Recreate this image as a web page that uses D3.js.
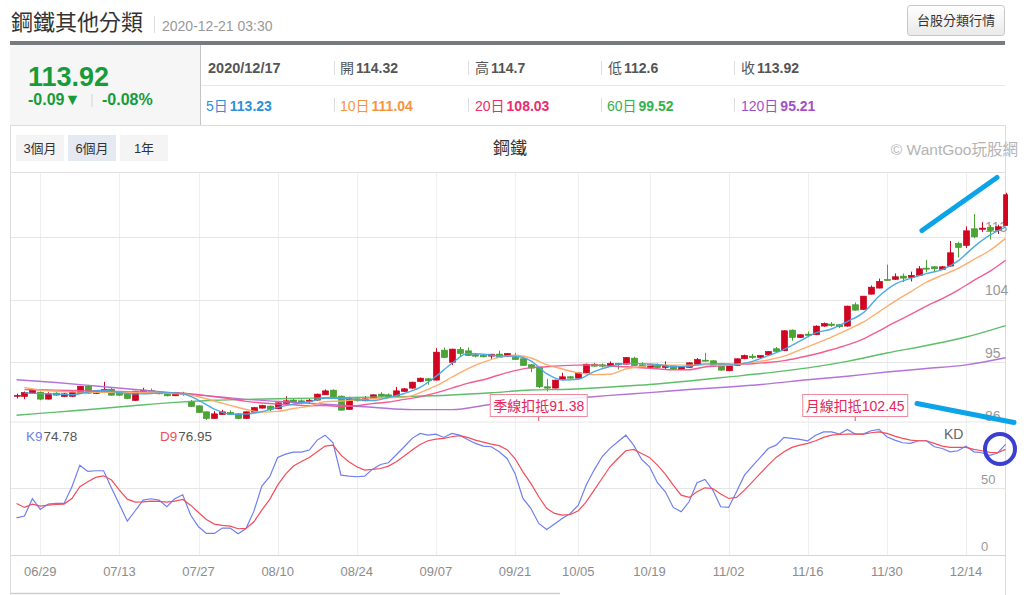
<!DOCTYPE html>
<html>
<head>
<meta charset="utf-8">
<script src="https://cdn.jsdelivr.net/npm/d3@7"></script>
<style>
  html, body { margin: 0; padding: 0; background: #fff; }
  svg { display: block; font-family: "Liberation Sans", Arial, "Noto Sans CJK TC", sans-serif; }
</style>
</head>
<body>
<div id="root"></div>
<script>
// ------------------------------------------------------------------ DATA
const dates = [
  '06/22','06/23','06/24','06/29','06/30','07/01','07/02','07/03','07/06','07/07',
  '07/08','07/09','07/10','07/13','07/14','07/15','07/16','07/17','07/20','07/21',
  '07/22','07/23','07/24','07/27','07/28','07/29','07/30','07/31','08/03','08/04',
  '08/05','08/06','08/07','08/10','08/11','08/12','08/13','08/14','08/17','08/18',
  '08/19','08/20','08/21','08/24','08/25','08/26','08/27','08/28','08/31','09/01',
  '09/02','09/03','09/04','09/07','09/08','09/09','09/10','09/11','09/14','09/15',
  '09/16','09/17','09/18','09/21','09/22','09/23','09/24','09/25','09/28','09/29',
  '09/30','10/05','10/06','10/07','10/08','10/12','10/13','10/14','10/15','10/16',
  '10/19','10/20','10/21','10/22','10/23','10/26','10/27','10/28','10/29','10/30',
  '11/02','11/03','11/04','11/05','11/06','11/09','11/10','11/11','11/12','11/13',
  '11/16','11/17','11/18','11/19','11/20','11/23','11/24','11/25','11/26','11/27',
  '11/30','12/01','12/02','12/03','12/04','12/07','12/08','12/09','12/10','12/11',
  '12/14','12/15','12/16','12/17','12/18','12/21'
];

const opens = [
  90.2, 90.09, 90.57, 90.71, 89.71, 90.57, 90.09, 90.1, 90.57, 91.57,
  90.52, 90.71, 91.14, 90.57, 90.47, 89.52, 90.71, 90.95, 90.67, 90.57,
  90.19, 90.57, 89.33, 88.75, 87.89, 86.93, 87.5, 87.8, 87.6, 86.93,
  87.85, 88.42, 88.71, 88.32, 89.09, 89.57, 89.47, 89.38, 89.57, 90.33,
  91.0, 90.14, 88.23, 89.76, 89.47, 89.76, 90.43, 90.33, 90.04, 90.81,
  91.29, 92.24, 92.63, 92.44, 96.74, 95.0, 96.84, 96.64, 96.07, 95.97,
  95.88, 96.17, 95.88, 95.69, 95.5, 94.64, 94.25, 91.48, 91.29, 92.53,
  92.92, 92.72, 93.49, 94.73, 94.64, 94.44, 94.83, 94.73, 95.59, 94.64,
  94.25, 94.64, 94.25, 94.54, 93.97, 94.25, 94.64, 95.3, 95.21, 94.64,
  93.78, 94.54, 95.5, 95.88, 95.69, 96.07, 96.94, 96.65, 99.61, 98.56,
  99.04, 98.95, 100.19, 100.48, 100.38, 100.19, 103.25, 102.58, 104.77, 105.64,
  106.88, 106.89, 107.36, 107.17, 107.46, 108.5, 108.7, 108.32, 108.8, 112.05,
  111.76, 114.15, 114.06, 114.32, 113.96, 114.63
];
const highs = [
  90.52, 90.8, 91.1, 90.8, 90.7, 90.7, 90.6, 90.9, 91.6, 91.75,
  91.0, 92.2, 91.3, 90.7, 90.55, 90.9, 91.33, 91.24, 90.8, 90.65,
  90.75, 90.76, 89.6, 88.8, 87.95, 87.99, 88.18, 88.09, 87.7, 87.95,
  88.6, 88.9, 88.8, 89.25, 90.14, 89.76, 89.66, 89.76, 90.5, 91.1,
  91.1, 90.24, 90.04, 89.85, 90.14, 90.4, 90.71, 90.52, 91.48, 91.3,
  92.2, 92.8, 92.7, 97.03, 97.12, 96.95, 97.2, 97.12, 96.3, 96.07,
  96.2, 96.65, 96.3, 96.36, 95.6, 94.75, 94.3, 92.63, 92.5, 93.49,
  93.0, 93.55, 94.8, 94.92, 94.83, 95.12, 94.9, 95.75, 95.8, 95.02,
  94.7, 94.83, 95.12, 94.6, 94.4, 95.0, 95.6, 96.36, 95.3, 94.7,
  94.6, 95.55, 96.1, 96.2, 96.0, 96.6, 97.2, 99.6, 99.7, 99.0,
  99.42, 100.3, 100.7, 100.76, 100.5, 103.1, 103.6, 104.5, 106.02, 107.0,
  109.0, 107.75, 107.74, 108.0, 108.8, 109.66, 108.8, 108.8, 112.4, 112.3,
  114.5, 116.26, 115.1, 114.7, 114.72, 119.32
];
const lows = [
  89.8, 89.71, 90.5, 89.55, 89.65, 90.2, 90.0, 90.0, 90.5, 90.5,
  90.45, 90.6, 90.2, 90.2, 89.75, 89.45, 90.65, 90.6, 90.4, 90.1,
  90.15, 90.19, 88.6, 87.75, 86.74, 86.9, 87.45, 87.45, 86.85, 86.85,
  87.8, 88.35, 87.94, 88.3, 89.0, 89.09, 89.0, 89.09, 89.5, 90.3,
  90.0, 88.04, 88.2, 89.38, 89.4, 89.7, 89.95, 89.95, 90.0, 90.75,
  91.2, 92.15, 91.77, 92.4, 95.6, 94.6, 95.8, 95.9, 95.7, 95.7,
  95.5, 95.65, 95.8, 95.35, 94.5, 93.58, 91.29, 90.81, 91.25, 92.45,
  92.65, 92.7, 93.45, 94.4, 94.25, 94.4, 93.97, 94.7, 94.5, 94.3,
  94.2, 94.16, 93.97, 93.9, 93.9, 94.2, 94.6, 95.1, 94.5, 93.8,
  93.7, 94.5, 95.45, 95.5, 95.5, 96.0, 96.5, 96.6, 98.08, 98.5,
  98.6, 98.9, 100.1, 100.1, 99.9, 100.1, 102.4, 102.5, 104.7, 105.6,
  106.7, 106.8, 106.5, 106.6, 107.4, 107.9, 108.0, 108.25, 108.7, 110.04,
  111.4, 112.8, 113.7, 112.6, 113.4, 114.6
];
const closes = [
  90.25, 90.67, 91.0, 89.71, 90.47, 90.28, 90.47, 90.76, 91.57, 90.57,
  90.9, 91.1, 90.28, 90.28, 89.8, 90.86, 91.0, 90.67, 90.47, 90.19,
  90.67, 90.45, 88.66, 87.8, 86.93, 87.6, 87.89, 87.5, 86.93, 87.89,
  88.5, 88.8, 88.23, 89.18, 89.47, 89.28, 89.18, 89.57, 90.43, 90.9,
  90.04, 88.13, 89.76, 89.47, 89.76, 90.33, 90.14, 90.04, 90.9, 91.19,
  92.15, 92.72, 92.34, 96.45, 95.69, 96.89, 96.26, 95.97, 95.88, 95.78,
  96.16, 95.69, 96.26, 95.4, 94.54, 94.16, 91.48, 91.29, 92.44, 92.92,
  92.72, 93.49, 94.73, 94.44, 94.44, 94.83, 94.64, 95.69, 94.54, 94.35,
  94.64, 94.25, 94.54, 93.97, 94.35, 94.92, 95.4, 95.2, 94.54, 93.87,
  94.54, 95.5, 95.98, 95.69, 95.98, 96.55, 96.55, 99.52, 98.56, 98.95,
  98.85, 100.19, 100.57, 100.28, 100.1, 103.06, 102.48, 104.49, 105.78, 106.6,
  106.79, 107.27, 107.07, 107.46, 108.41, 108.41, 108.41, 108.7, 110.71, 111.47,
  113.86, 113.0, 114.25, 113.92, 114.44, 119.03
];

// moving averages, one reading every 2nd trading day starting 06/23
const ma5 = [
  90.6, 90.5, 90.43, 90.34, 90.73, 90.98, 90.63, 90.46, 90.52, 90.64,
  90.49, 89.55, 88.29, 87.54, 87.56, 87.92, 88.52, 88.99, 89.34, 89.87,
  89.81, 89.66, 89.49, 89.95, 90.52, 91.4, 92.97, 94.82, 96.25, 96.16,
  95.9, 95.86, 95.21, 93.37, 92.46, 92.57, 93.66, 94.39, 94.81, 94.81,
  94.69, 94.35, 94.41, 94.77, 94.79, 94.73, 95.12, 95.94, 96.86, 98.03,
  99.21, 99.77, 100.84, 102.08, 104.48, 106.19, 107.04, 107.72, 108.28, 109.54,
  111.55, 113.23, 114.4
];
const ma10 = [
  91.4, 91.0, 90.85, 90.75, 90.7, 90.68, 90.67, 90.66, 90.7, 90.56,
  90.47, 90.06, 89.44, 88.82, 88.23, 87.85, 87.95, 88.37, 88.7, 89.35,
  89.44, 89.62, 89.76, 89.9, 89.98, 90.65, 91.6, 92.85, 94.06, 95.01,
  95.71, 96.0, 95.61, 94.66, 94.03, 93.47, 93.22, 93.28, 94.03, 94.39,
  94.66, 94.59, 94.59, 94.62, 94.57, 94.68, 95.0, 95.33, 95.87, 96.78,
  97.68, 98.6, 99.66, 100.75, 102.24, 103.74, 105.11, 106.48, 107.49, 108.47,
  109.75, 111.04, 112.78
];
const ma20 = [
  91.1, 91.05, 91.0, 90.95, 90.9, 90.85, 90.8, 90.75, 90.7, 90.65,
  90.58, 90.36, 90.05, 89.76, 89.39, 89.16, 89.0, 88.91, 88.76, 88.79,
  88.65, 88.78, 89.06, 89.3, 89.67, 90.04, 90.61, 91.3, 91.98, 92.49,
  93.18, 93.8, 94.23, 94.36, 94.52, 94.59, 94.61, 94.44, 94.35, 94.21,
  94.06, 93.91, 93.93, 94.33, 94.48, 94.67, 94.79, 94.96, 95.24, 95.68,
  96.18, 96.8, 97.49, 98.31, 99.51, 100.71, 101.86, 103.07, 104.12, 105.36,
  106.75, 108.03, 109.63
];
// one reading every 5th trading day starting 06/22
const ma60 = [
  87.4, 87.85, 88.3, 88.8, 89.25, 89.55, 89.7, 89.8, 89.9, 90.0,
  90.1, 90.3, 90.62, 91.02, 91.13, 91.46, 91.81, 92.32, 92.9, 93.48,
  94.19, 95.13, 96.33, 97.4, 98.62, 100.27
];
const ma120 = [
  92.5, 92.1, 91.6, 91.1, 90.6, 90.1, 89.6, 89.25, 88.9, 88.55,
  88.2, 88.2, 88.95, 89.4, 89.8, 90.25, 90.65, 91.1, 91.45, 91.9,
  92.5, 93.0, 93.6, 94.1, 94.63, 95.65
];

const kLine = [
  27.9, 29.2, 42.2, 34.2, 38.2, 38.7, 38.7, 51.2, 67.4, 62.7,
  63.2, 63.2, 50.2, 37.9, 25.4, 33.2, 41.2, 42.2, 41.2, 36.2,
  42.2, 45.2, 30.0, 21.2, 16.2, 16.2, 20.2, 20.2, 15.9, 19.9,
  32.9, 51.7, 58.7, 73.2, 75.7, 77.2, 77.2, 78.7, 86.2, 89.9,
  84.2, 59.9, 59.2, 58.7, 59.2, 64.4, 67.9, 69.2, 75.2, 81.2,
  87.5, 91.2, 89.9, 90.7, 88.2, 91.2, 89.9, 86.7, 83.7, 81.7,
  81.2, 77.4, 72.4, 61.2, 42.5, 35.0, 23.7, 19.2, 23.2, 27.5,
  31.2, 37.4, 52.5, 63.7, 73.7, 80.0, 85.0, 89.9, 82.4, 71.7,
  66.2, 54.2, 47.4, 35.7, 32.4, 39.9, 54.2, 56.7, 48.7, 36.2,
  35.7, 47.4, 59.9, 66.7, 73.2, 79.9, 82.4, 88.2, 87.5, 86.7,
  85.7, 89.9, 92.4, 92.4, 90.7, 94.2, 90.7, 90.7, 93.2, 94.2,
  88.7, 86.2, 84.2, 83.7, 85.7, 85.7, 81.2, 79.9, 77.4, 78.2,
  81.7, 77.4, 76.7, 74.78, 76.5, 83.0
];
const dLine = [
  38.7, 35.7, 38.2, 36.7, 37.4, 37.9, 38.2, 42.4, 51.2, 54.9,
  58.2, 59.4, 56.2, 48.7, 41.9, 39.7, 39.9, 40.4, 40.2, 39.7,
  40.4, 41.7, 37.4, 31.9, 26.7, 23.2, 22.2, 21.7, 19.7, 19.9,
  24.9, 33.7, 41.7, 52.4, 60.7, 66.7, 70.2, 73.2, 77.4, 81.7,
  82.4, 74.9, 69.9, 66.2, 63.7, 64.2, 64.9, 66.7, 69.9, 74.2,
  78.7, 82.9, 85.7, 86.9, 87.5, 88.7, 89.5, 88.2, 86.2, 84.7,
  83.2, 82.0, 79.0, 72.4, 62.4, 53.7, 43.7, 35.0, 31.2, 29.9,
  30.4, 33.2, 39.9, 48.7, 57.4, 66.2, 72.4, 78.2, 79.2, 76.2,
  73.2, 67.4, 60.7, 52.4, 44.9, 43.2, 47.4, 50.4, 49.9, 45.7,
  42.4, 43.2, 48.7, 54.9, 61.2, 67.4, 73.2, 77.4, 80.7, 82.4,
  83.7, 85.7, 88.2, 89.9, 90.4, 90.7, 90.7, 90.7, 91.7, 92.4,
  91.2, 89.2, 87.5, 86.2, 85.7, 85.7, 83.7, 81.7, 80.7, 80.7,
  80.7, 79.2, 78.2, 76.95, 76.7, 79.2
];

const tickDates = ['06/29','07/13','07/27','08/10','08/24','09/07','09/21','10/05','10/19','11/02','11/16','11/30','12/14'];
const priceTicks = [86, 95, 104, 113];
const kdTicks = [0, 50];

// deduction notes: [date, text]
const notes = [['09/24', '季線扣抵91.38'], ['11/24', '月線扣抵102.45']];

// ------------------------------------------------------------------ SVG
const W = 1027, H = 595;
const svg = d3.select('#root').append('svg').attr('width', W).attr('height', H);
const defs = svg.append('defs');

const RED = '#d2041f', GREEN = '#4aa532';

// ------------------------------------------------------------------ HEADER
svg.append('text').attr('x', 11).attr('y', 30).attr('font-size', 22)
  .attr('fill', '#333').text('鋼鐵其他分類');
svg.append('line').attr('x1', 154.5).attr('x2', 154.5).attr('y1', 16).attr('y2', 33)
  .attr('stroke', '#ddd');
svg.append('text').attr('x', 162).attr('y', 31).attr('font-size', 14)
  .attr('fill', '#999').text('2020-12-21 03:30');

const grad = defs.append('linearGradient').attr('id', 'btn').attr('x1', 0).attr('x2', 0).attr('y1', 0).attr('y2', 1);
grad.append('stop').attr('offset', 0).attr('stop-color', '#ffffff');
grad.append('stop').attr('offset', 1).attr('stop-color', '#e9e9e9');
svg.append('rect').attr('x', 907.5).attr('y', 5.5).attr('width', 97).attr('height', 30).attr('rx', 3)
  .attr('fill', 'url(#btn)').attr('stroke', '#c6c6c6');
svg.append('text').attr('x', 956).attr('y', 25).attr('text-anchor', 'middle').attr('font-size', 13)
  .attr('fill', '#333').text('台股分類行情');

svg.append('rect').attr('x', 10).attr('y', 41).attr('width', 995).attr('height', 4).attr('fill', '#767b80');
svg.append('rect').attr('x', 10).attr('y', 45).attr('width', 190).attr('height', 80).attr('fill', '#f6f6f6');
svg.append('line').attr('x1', 200.5).attr('x2', 200.5).attr('y1', 45).attr('y2', 125).attr('stroke', '#c4c4c4');
svg.append('line').attr('x1', 201).attr('x2', 1005).attr('y1', 85.5).attr('y2', 85.5).attr('stroke', '#e8e8e8');

const qGreen = '#179c3a';
svg.append('text').attr('x', 28).attr('y', 86).attr('font-size', 27).attr('font-weight', 'bold')
  .attr('fill', qGreen).text('113.92');
svg.append('text').attr('x', 28).attr('y', 105).attr('font-size', 16).attr('font-weight', 'bold')
  .attr('fill', qGreen).text('-0.09▼');
svg.append('line').attr('x1', 92).attr('x2', 92).attr('y1', 94).attr('y2', 107).attr('stroke', '#d4d4d4');
svg.append('text').attr('x', 102).attr('y', 105).attr('font-size', 16).attr('font-weight', 'bold')
  .attr('fill', qGreen).text('-0.08%');

svg.append('text').attr('x', 208).attr('y', 73).attr('font-size', 14.5).attr('font-weight', 'bold')
  .attr('fill', '#555').text('2020/12/17');

[334.5, 468.5, 601.5, 734.5].forEach(x => {
  svg.append('line').attr('x1', x).attr('x2', x).attr('y1', 61).attr('y2', 75).attr('stroke', '#ddd');
  svg.append('line').attr('x1', x).attr('x2', x).attr('y1', 98).attr('y2', 112).attr('stroke', '#ddd');
});

const row1 = [['開', '114.32', 340], ['高', '114.7', 475], ['低', '112.6', 608], ['收', '113.92', 741]];
row1.forEach(([lab, val, x]) => {
  const t = svg.append('text').attr('x', x).attr('y', 73).attr('font-size', 14).attr('fill', '#555');
  t.append('tspan').text(lab);
  t.append('tspan').attr('dx', 2).attr('font-weight', 'bold').text(val);
});

const row2 = [
  ['5日', '113.23', 206, '#2f90d9'],
  ['10日', '111.04', 340, '#f7953f'],
  ['20日', '108.03', 475, '#ec2c6c'],
  ['60日', '99.52', 607, '#35b04c'],
  ['120日', '95.21', 741, '#a24fc8']
];
row2.forEach(([lab, val, x, c]) => {
  const t = svg.append('text').attr('x', x).attr('y', 111).attr('font-size', 14).attr('fill', c);
  t.append('tspan').text(lab);
  t.append('tspan').attr('dx', 2).attr('font-weight', 'bold').text(val);
});

// ------------------------------------------------------------------ CHART FRAME
svg.append('path').attr('d', 'M10.5,595 V125.5 H1005.5 V595').attr('fill', 'none').attr('stroke', '#dcdcdc');

const ranges = [['3個月', 16, '#f4f4f4'], ['6個月', 68, '#e4e9f2'], ['1年', 120, '#f4f4f4']];
ranges.forEach(([t, x, bg]) => {
  svg.append('rect').attr('x', x).attr('y', 135).attr('width', 48).attr('height', 26).attr('fill', bg);
  svg.append('text').attr('x', x + 24).attr('y', 153).attr('text-anchor', 'middle')
    .attr('font-size', 13).attr('fill', '#333').text(t);
});
svg.append('text').attr('x', 510).attr('y', 154).attr('text-anchor', 'middle').attr('font-size', 17)
  .attr('fill', '#333').text('鋼鐵');
svg.append('text').attr('x', 1018).attr('y', 155).attr('text-anchor', 'end').attr('font-size', 15.5)
  .attr('fill', '#b4b4b4').text('© WantGoo玩股網');

// ------------------------------------------------------------------ SCALES
const x = d3.scaleBand().domain(dates).range([12.6, 1009.5]).padding(0);
const cx = d => x(d) + x.bandwidth() / 2;
const yP = d3.scaleLinear().domain([86, 113]).range([425, 236.8]);
const yK = d3.scaleLinear().domain([0, 100]).range([555, 421.7]);

const P_TOP = 173, P_BOT = 421.5, K_BOT = 555;

defs.append('clipPath').attr('id', 'clipP').append('rect')
  .attr('x', 11).attr('y', P_TOP).attr('width', 997).attr('height', P_BOT - P_TOP);
defs.append('clipPath').attr('id', 'clipK').append('rect')
  .attr('x', 11).attr('y', P_BOT).attr('width', 997).attr('height', K_BOT - P_BOT);

// ------------------------------------------------------------------ GRID
svg.append('line').attr('x1', 11).attr('x2', 1006).attr('y1', P_TOP - 0.5).attr('y2', P_TOP - 0.5).attr('stroke', '#e2e2e2');
svg.append('g').selectAll('line').data(tickDates).join('line')
  .attr('x1', d => Math.round(cx(d)) + 0.5).attr('x2', d => Math.round(cx(d)) + 0.5)
  .attr('y1', P_TOP).attr('y2', K_BOT).attr('stroke', '#efefef');
svg.append('g').selectAll('line').data(priceTicks.filter(v => yP(v) < P_BOT)).join('line')
  .attr('x1', 11).attr('x2', 1006).attr('y1', d => Math.round(yP(d)) + 0.5).attr('y2', d => Math.round(yP(d)) + 0.5)
  .attr('stroke', '#e6e6e6');
svg.append('line').attr('x1', 11).attr('x2', 1006).attr('y1', 422).attr('y2', 422).attr('stroke', '#e6e6e6');
svg.append('g').selectAll('line').data(kdTicks.filter(v => v > 0)).join('line')
  .attr('x1', 11).attr('x2', 1006).attr('y1', d => Math.round(yK(d)) + 0.5).attr('y2', d => Math.round(yK(d)) + 0.5)
  .attr('stroke', '#e6e6e6');
svg.append('line').attr('x1', 11).attr('x2', 1006).attr('y1', K_BOT + 0.5).attr('y2', K_BOT + 0.5).attr('stroke', '#ccd6eb');

// axis labels
svg.append('g').selectAll('text').data(priceTicks).join('text')
  .attr('x', 985).attr('y', d => yP(d) - 4.5).attr('font-size', 14).attr('fill', '#999').text(d => d);
svg.append('g').selectAll('text').data(kdTicks).join('text')
  .attr('x', 981).attr('y', d => yK(d) - 4.5).attr('font-size', 13).attr('fill', '#999').text(d => d);
svg.append('g').selectAll('text').data(tickDates).join('text')
  .attr('x', d => cx(d)).attr('y', 576).attr('text-anchor', 'middle').attr('font-size', 13)
  .attr('fill', '#8c8c8c').text(d => d);

svg.append('line').attr('x1', 11).attr('x2', 560).attr('y1', 593.5).attr('y2', 593.5).attr('stroke', '#cfcfcf').attr('stroke-width', 1.5);

// ------------------------------------------------------------------ CANDLES
const pane = svg.append('g').attr('clip-path', 'url(#clipP)');
const candles = dates.map((d, i) => ({ d, o: opens[i], h: highs[i], l: lows[i], c: closes[i] }));
const bw = 6.2;
const cg = pane.append('g').selectAll('g').data(candles).join('g');
cg.append('line')
  .attr('x1', d => Math.round(cx(d.d)) + 0.5).attr('x2', d => Math.round(cx(d.d)) + 0.5)
  .attr('y1', d => yP(d.h)).attr('y2', d => yP(d.l))
  .attr('stroke', d => d.c >= d.o ? RED : GREEN).attr('stroke-width', 1);
cg.append('rect')
  .attr('x', d => Math.round(cx(d.d)) + 0.5 - bw / 2)
  .attr('y', d => yP(Math.max(d.o, d.c)))
  .attr('width', bw)
  .attr('height', d => Math.max(1, Math.abs(yP(d.o) - yP(d.c))))
  .attr('fill', d => d.c >= d.o ? RED : GREEN)
  .attr('stroke', d => d.c >= d.o ? '#c0031c' : '#3f9228').attr('stroke-width', 0.6);

// ------------------------------------------------------------------ MOVING AVERAGES
const maLine = d3.line().x(p => cx(p.d)).y(p => yP(p.v)).curve(d3.curveMonotoneX);
const shortPts = arr => arr.map((v, i) => ({ d: dates[1 + 2 * i], v }));
const longPts = arr => arr.map((v, i) => ({ d: dates[5 * i], v }));
const maSeries = [
  [longPts(ma120), '#b06bd6'],
  [longPts(ma60), '#55ba62'],
  [shortPts(ma20), '#f2558c'],
  [shortPts(ma10), '#ffa965'],
  [shortPts(ma5), '#45a6e4']
];
pane.append('g').selectAll('path').data(maSeries).join('path')
  .attr('d', s => maLine(s[0])).attr('fill', 'none')
  .attr('stroke', s => s[1]).attr('stroke-width', 1.4).attr('stroke-opacity', 0.95);

// deduction notes
notes.forEach(([d, t]) => {
  const px = cx(d);
  const w = t.length > 9 ? 105 : 97;
  svg.append('line').attr('x1', px).attr('x2', px).attr('y1', 416.5).attr('y2', 421)
    .attr('stroke', '#e8476e');
  svg.append('rect').attr('x', px - w / 2).attr('y', 394.5).attr('width', w).attr('height', 22)
    .attr('fill', 'rgba(255,255,255,0.85)').attr('stroke', '#f0899b');
  svg.append('text').attr('x', px).attr('y', 411).attr('text-anchor', 'middle').attr('font-size', 14)
    .attr('fill', '#e4265a').text(t);
});

// ------------------------------------------------------------------ KD
const kd = svg.append('g').attr('clip-path', 'url(#clipK)');
const kdLine = d3.line().x((v, i) => cx(dates[i])).y(v => yK(v));
kd.append('path').attr('d', kdLine(kLine)).attr('fill', 'none').attr('stroke', '#6f7ef0').attr('stroke-width', 1.2);
kd.append('path').attr('d', kdLine(dLine)).attr('fill', 'none').attr('stroke', '#f24d5a').attr('stroke-width', 1.2);

const kt = svg.append('text').attr('x', 26).attr('y', 441).attr('font-size', 13.5);
kt.append('tspan').attr('fill', '#6f7ef0').text('K9');
kt.append('tspan').attr('dx', 1).attr('fill', '#555').text('74.78');
const dt = svg.append('text').attr('x', 160).attr('y', 441).attr('font-size', 13.5);
dt.append('tspan').attr('fill', '#f24d5a').text('D9');
dt.append('tspan').attr('dx', 1).attr('fill', '#555').text('76.95');
svg.append('text').attr('x', 944).attr('y', 439).attr('font-size', 14).attr('fill', '#666').text('KD');

// ------------------------------------------------------------------ HAND-DRAWN MARKS
const marks = svg.append('g').attr('fill', 'none').attr('stroke-linecap', 'round');
marks.append('line').attr('x1', 922).attr('y1', 230.5).attr('x2', 997).attr('y2', 177.5)
  .attr('stroke', '#0ca3e9').attr('stroke-width', 5);
marks.append('line').attr('x1', 917).attr('y1', 403.5).attr('x2', 1014).attr('y2', 422.5)
  .attr('stroke', '#0ca3e9').attr('stroke-width', 5);
marks.append('circle').attr('cx', 1000).attr('cy', 449).attr('r', 15)
  .attr('stroke', '#3b3fcf').attr('stroke-width', 4);
</script>
</body>
</html>
